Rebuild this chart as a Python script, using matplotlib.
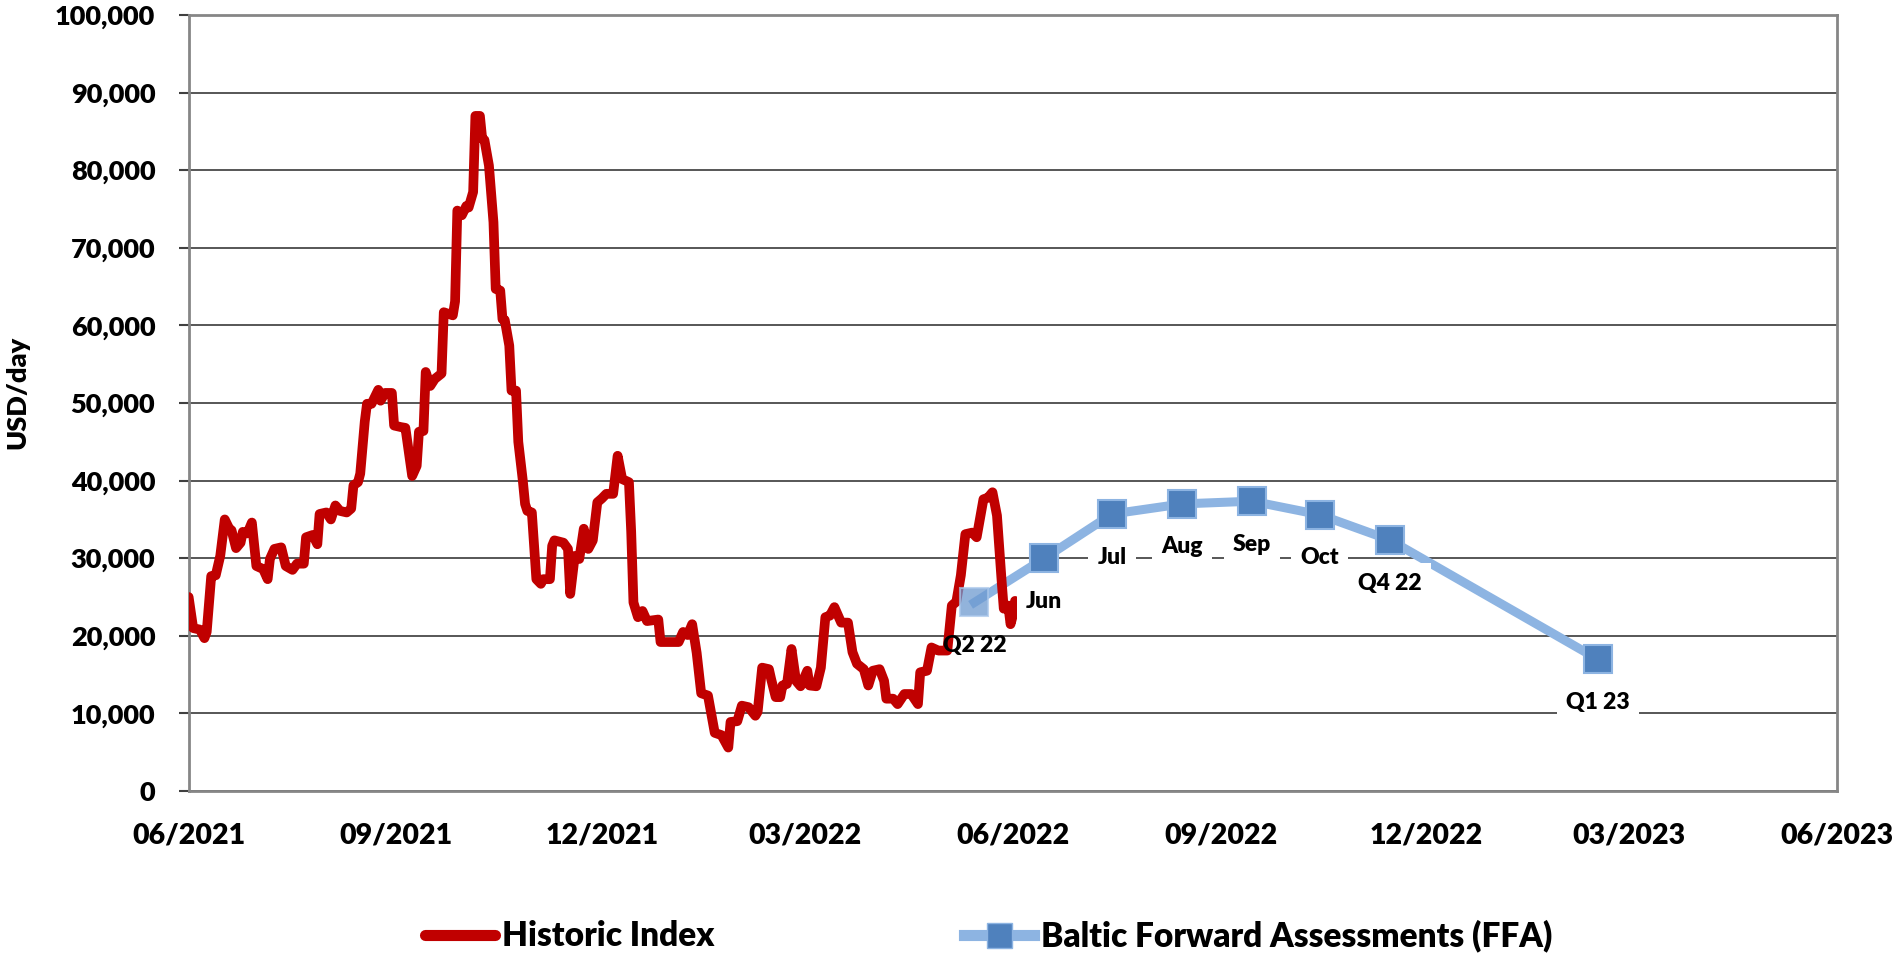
import matplotlib
matplotlib.use('Agg')
import matplotlib.pyplot as plt
import matplotlib.dates as mdates
from matplotlib.lines import Line2D
from matplotlib.ticker import FuncFormatter, MultipleLocator
import pandas as pd

plt.rcParams['font.family'] = ['Lato', 'DejaVu Sans']
plt.rcParams['font.weight'] = 'heavy'

# Historic index: days after START, USD/day
START = "2021-06-01"
HIST_DAYS = [0, 2, 5, 7, 8, 10, 12, 14, 16, 18, 19, 21, 23, 24, 26, 28, 30, 33, 35, 36,
             38, 41, 43, 46, 48, 51, 52, 55, 57, 58, 61, 63, 65, 67, 70, 72, 73, 75, 76, 78,
             79, 81, 84, 85, 87, 90, 91, 94, 96, 99, 101, 102, 104, 105, 107, 109, 112, 113, 117, 118,
             119, 121, 123, 124, 126, 127, 129, 130, 131, 133, 135, 136, 138, 139, 140, 142, 143, 145, 146, 148,
             149, 150, 152, 154, 156, 157, 160, 161, 162, 166, 168, 169, 171, 173, 175, 177, 179, 181, 183, 185,
             188, 190, 192, 195, 196, 197, 199, 201, 203, 208, 209, 217, 219, 221, 223, 225, 227, 230, 233, 236,
             239, 240, 243, 245, 248, 251, 252, 254, 257, 258, 260, 262, 263, 265, 267, 269, 271, 274, 275, 278,
             280, 282, 284, 286, 289, 292, 294, 296, 299, 301, 303, 306, 308, 309, 312, 314, 317, 320, 323, 324,
             327, 329, 332, 336, 338, 340, 342, 344, 347, 349, 352, 354, 356, 358, 360, 361, 363, 364, 365, 366]
HIST_VALUES = [25000, 21000, 20800, 19700, 20500, 27700, 27800, 30300, 35000, 33800, 33600, 31300, 32000, 33400, 33200, 34600, 29000, 28600, 27300, 29900,
               31200, 31400, 29000, 28500, 29300, 29300, 32700, 33000, 31800, 35700, 35900, 35000, 36800, 36100, 35900, 36400, 39400, 39800, 40900, 47600,
               49900, 49900, 51700, 50300, 51300, 51300, 47100, 46900, 46800, 40600, 41900, 46300, 46400, 54000, 52200, 53100, 53800, 61700, 61300, 63100,
               74800, 74200, 75400, 75200, 77200, 87000, 87000, 84100, 83900, 80600, 73300, 64700, 64500, 60800, 60700, 57400, 51600, 51600, 45000, 40000,
               37000, 36100, 35900, 27300, 26700, 27300, 27300, 31600, 32300, 32000, 31200, 25400, 30300, 29900, 33800, 31200, 32300, 37200, 37700, 38300,
               38300, 43200, 40200, 39800, 33400, 24300, 22400, 23200, 21900, 22100, 19200, 19200, 20500, 20100, 21500, 17800, 12600, 12300, 7500, 7200,
               5600, 8900, 9000, 11000, 10800, 9700, 10200, 15900, 15700, 14400, 12100, 12100, 13600, 13800, 18300, 14200, 13500, 15500, 13600, 13500,
               15900, 22400, 22600, 23700, 21700, 21700, 17900, 16400, 15700, 13600, 15500, 15700, 14200, 11900, 11900, 11200, 12500, 12500, 11200, 15300,
               15500, 18500, 18100, 18100, 23900, 24400, 27800, 33100, 33300, 32700, 37600, 37800, 38500, 35500, 27300, 23500, 23900, 21500, 22600, 24500]

# Baltic Forward Assessments
FFA_DATES = ["2022-05-15", "2022-06-15", "2022-07-15", "2022-08-15",
             "2022-09-15", "2022-10-15", "2022-11-15", "2023-02-15"]
FFA_VALUES = [24300, 30000, 35700, 37000, 37350, 35600, 32350, 17000]
FFA_LABELS = ["Q2 22", "Jun", "Jul", "Aug", "Sep", "Oct", "Q4 22", "Q1 23"]

X_TICKS = ["2021-06-01", "2021-09-01", "2021-12-01", "2022-03-01", "2022-06-01",
           "2022-09-01", "2022-12-01", "2023-03-01", "2023-06-01"]

RED = "#C00000"
LIGHT_BLUE = "#8DB4E2"
MARKER_BLUE = "#4F81BD"

hist_dates = pd.Timestamp(START) + pd.to_timedelta(HIST_DAYS, unit="D")
ffa_dates = pd.to_datetime(FFA_DATES)

fig = plt.figure(figsize=(18.92, 9.58), dpi=100)
ax = fig.add_axes([0.0997, 0.1743, 0.8712, 0.81])

ax.set_ylim(0, 100000)
ax.yaxis.set_major_locator(MultipleLocator(10000))
ax.yaxis.set_major_formatter(FuncFormatter(lambda v, p: f"{int(v):,}"))
ax.set_xlim(pd.Timestamp(X_TICKS[0]), pd.Timestamp(X_TICKS[-1]))
ax.set_xticks(pd.to_datetime(X_TICKS))
ax.xaxis.set_major_formatter(mdates.DateFormatter("%m/%Y"))

ax.grid(axis='y', color='#3a3a3a', linewidth=1.2, zorder=0)
ax.set_axisbelow(True)
for spine in ax.spines.values():
    spine.set_color('#868686')
    spine.set_linewidth(2)

ax.tick_params(axis='y', length=7, width=1.5, color='#404040', pad=17, labelsize=19.5)
ax.tick_params(axis='x', length=0, pad=23, labelsize=20.5)

# FFA line under the red index, markers on top
ax.plot(ffa_dates, FFA_VALUES, color=LIGHT_BLUE, linewidth=6.5, zorder=2)
ax.plot(hist_dates, HIST_VALUES, color=RED, linewidth=7,
        solid_capstyle='round', solid_joinstyle='round', zorder=3)
ax.plot(ffa_dates[1:], FFA_VALUES[1:], linestyle='none', marker='s', markersize=20.5,
        markerfacecolor=MARKER_BLUE, markeredgecolor=LIGHT_BLUE, markeredgewidth=1.5, zorder=4)
ax.plot(ffa_dates[:1], FFA_VALUES[:1], linestyle='none', marker='s', markersize=20.5,
        markerfacecolor='#6E9AD0', markeredgecolor='#A9C6EA', markeredgewidth=1.5,
        alpha=0.75, zorder=4)

for i, (d, v, lab) in enumerate(zip(ffa_dates, FFA_VALUES, FFA_LABELS)):
    box = None if i == 0 else dict(boxstyle='square,pad=0.4', fc='white', ec='none')
    ax.annotate(lab, (d, v), xytext=(0, -31), textcoords='offset points',
                ha='center', va='center', fontsize=16.5,
                bbox=box, zorder=5)

fig.text(17 / 1892, 0.590, "USD/day", rotation=90, ha='center', va='center',
         fontsize=19.5)

handles = [
    Line2D([], [], color=RED, linewidth=8, solid_capstyle='round'),
    Line2D([], [], color=LIGHT_BLUE, linewidth=8, marker='s', markersize=18,
           markerfacecolor=MARKER_BLUE, markeredgecolor=LIGHT_BLUE),
]
fig.legend(handles, ["Historic Index", "Baltic Forward Assessments (FFA)"],
           loc='center', bbox_to_anchor=(0.5227, 0.023), ncol=2, frameon=False,
           fontsize=24, handlelength=2.1, handletextpad=0.2, columnspacing=7.5)

fig.savefig("out.png", dpi=100)
